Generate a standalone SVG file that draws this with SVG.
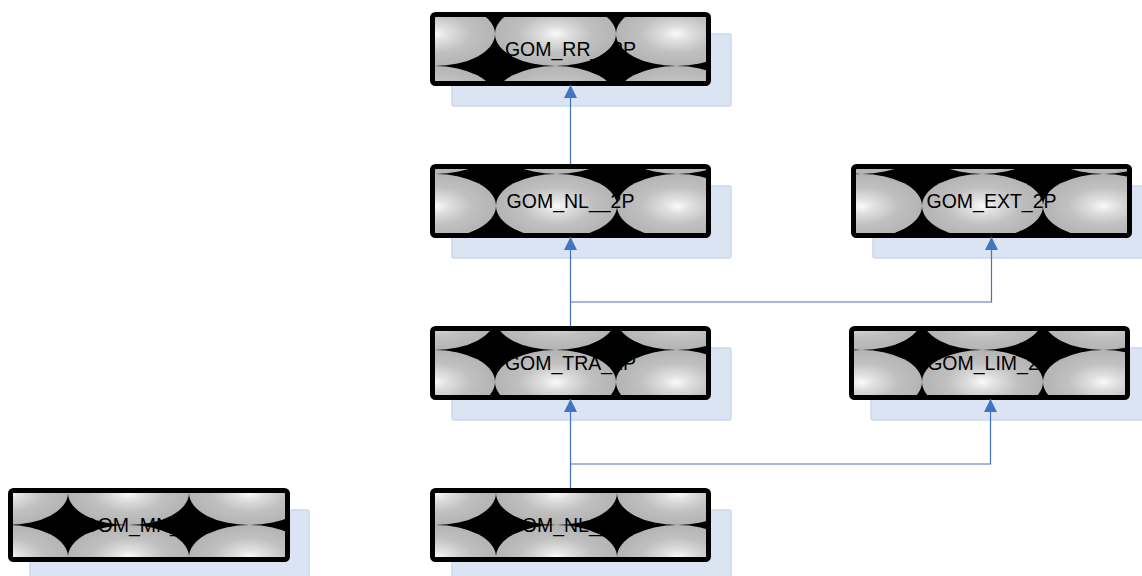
<svg xmlns="http://www.w3.org/2000/svg" xmlns:xlink="http://www.w3.org/1999/xlink" width="1142" height="576" viewBox="0 0 1142 576">
  <style>
    .shadow { fill: #dbe4f3; stroke: #cbd7ee; stroke-width: 1.5; }
    .box { stroke: #000; stroke-width: 5; }
    .label { font-family: "Liberation Sans", Arial, sans-serif; font-size: 19.5px; fill: #000; text-anchor: middle; }
    .link { fill: none; stroke: #4472c4; stroke-width: 1.2; }
  </style>
  <defs>
    <radialGradient id="glow" cx="0.5" cy="0.5" r="0.5">
      <stop offset="0" stop-color="#fafafa"/>
      <stop offset="0.22" stop-color="#e0e0e0"/>
      <stop offset="0.6" stop-color="#c0c0c0"/>
      <stop offset="1" stop-color="#b4b4b4"/>
    </radialGradient>
    <!-- base tile: shaded ellipse on black -->
    <pattern id="tile" patternUnits="userSpaceOnUse" x="0" y="0" width="121" height="64">
      <rect width="121" height="64" fill="#000"/>
      <ellipse cx="60.5" cy="32" rx="60.5" ry="32" fill="url(#glow)"/>
    </pattern>
    <pattern id="fill1" href="#tile" xlink:href="#tile" patternTransform="translate(495 66)"/>
    <pattern id="fill2" href="#tile" xlink:href="#tile" patternTransform="translate(496 174)"/>
    <pattern id="fill3" href="#tile" xlink:href="#tile" patternTransform="translate(922 174)"/>
    <pattern id="fill4" href="#tile" xlink:href="#tile" patternTransform="translate(495 350)"/>
    <pattern id="fill5" href="#tile" xlink:href="#tile" patternTransform="translate(922 350)"/>
    <pattern id="fill6" href="#tile" xlink:href="#tile" patternTransform="translate(68 525)"/>
    <pattern id="fill7" href="#tile" xlink:href="#tile" patternTransform="translate(496 525)"/>
    <marker id="arrow" markerUnits="userSpaceOnUse" markerWidth="13" markerHeight="13" refX="13" refY="6.5" orient="auto">
      <path d="M0,0 L13,6.5 L0,13 Z" fill="#4472c4"/>
    </marker>
  </defs>

  <g id="node-rr-2p">
    <rect class="shadow" x="452" y="34" width="279" height="72" rx="2"/>
    <rect class="box" x="432.5" y="14.5" width="276" height="69" rx="3" fill="url(#fill1)"/>
    <text class="label" x="570.5" y="56">GOM_RR__2P</text>
  </g>

  <g id="node-nl-2p">
    <rect class="shadow" x="452" y="186" width="279" height="72" rx="2"/>
    <rect class="box" x="432.5" y="166.5" width="276" height="69" rx="3" fill="url(#fill2)"/>
    <text class="label" x="570.5" y="208">GOM_NL__2P</text>
  </g>

  <g id="node-ext-2p">
    <rect class="shadow" x="873" y="186" width="279" height="72" rx="2"/>
    <rect class="box" x="853.5" y="166.5" width="276" height="69" rx="3" fill="url(#fill3)"/>
    <text class="label" x="991.5" y="208">GOM_EXT_2P</text>
  </g>

  <g id="node-tra-2p">
    <rect class="shadow" x="452" y="348" width="279" height="72" rx="2"/>
    <rect class="box" x="432.5" y="328.5" width="276" height="69" rx="3" fill="url(#fill4)"/>
    <text class="label" x="570.5" y="370">GOM_TRA_2P</text>
  </g>

  <g id="node-lim-2p">
    <rect class="shadow" x="871" y="348" width="279" height="72" rx="2"/>
    <rect class="box" x="851.5" y="328.5" width="276" height="69" rx="3" fill="url(#fill5)"/>
    <text class="label" x="989.5" y="370">GOM_LIM_2P</text>
  </g>

  <g id="node-mn-2p">
    <rect class="shadow" x="30" y="510" width="279" height="72" rx="2"/>
    <rect class="box" x="10.5" y="490.5" width="277" height="69" rx="3" fill="url(#fill6)"/>
    <text class="label" x="149" y="532">GOM_MN__2P</text>
  </g>

  <g id="node-nl-1p">
    <rect class="shadow" x="452" y="510" width="279" height="72" rx="2"/>
    <rect class="box" x="432.5" y="490.5" width="276" height="69" rx="3" fill="url(#fill7)"/>
    <text class="label" x="570.5" y="532">GOM_NL__1P</text>
  </g>

  <g id="connectors">
    <path class="link" d="M570.5,164 V85" marker-end="url(#arrow)"/>
    <path class="link" d="M570.5,326 V237" marker-end="url(#arrow)"/>
    <path class="link" d="M570.5,302 H991.5 V237" marker-end="url(#arrow)"/>
    <path class="link" d="M570.5,488 V399" marker-end="url(#arrow)"/>
    <path class="link" d="M570.5,464 H990.5 V399" marker-end="url(#arrow)"/>
  </g>
</svg>
